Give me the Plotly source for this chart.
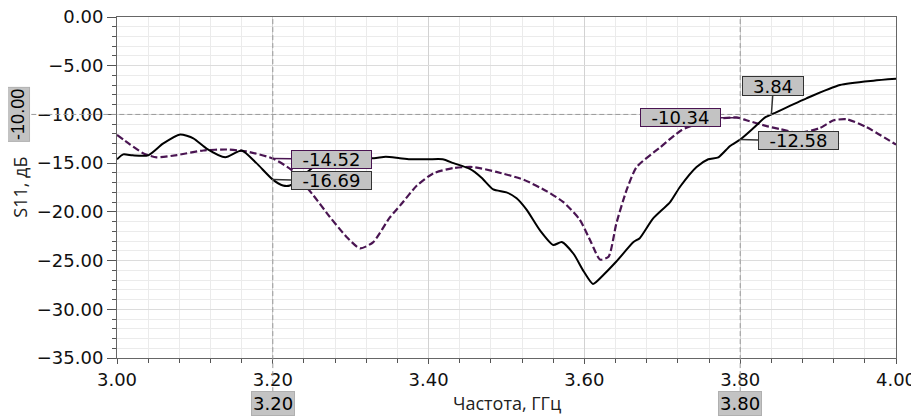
import plotly.graph_objects as go

# ---- data ----
freq_meas = [3.000, 3.008, 3.020, 3.040, 3.059, 3.081, 3.098, 3.115, 3.139, 3.160, 3.179,
             3.200, 3.213, 3.222, 3.260, 3.300, 3.330, 3.345, 3.363, 3.376, 3.400, 3.418,
             3.432, 3.453, 3.468, 3.483, 3.500, 3.513, 3.526, 3.543, 3.560, 3.571, 3.586,
             3.599, 3.611, 3.624, 3.641, 3.663, 3.671, 3.688, 3.710, 3.723, 3.744, 3.759,
             3.772, 3.787, 3.800, 3.817, 3.832, 3.843, 3.885, 3.928, 3.971, 4.000]
s11_meas = [-14.6, -14.1, -14.2, -14.2, -13.0, -12.05, -12.45, -13.5, -14.4, -13.7, -15.0,
            -16.69, -17.3, -17.3, -15.0, -14.5, -14.5, -14.35, -14.5, -14.6, -14.6, -14.6,
            -15.0, -15.6, -16.5, -17.7, -18.0, -18.6, -19.8, -21.9, -23.4, -23.1, -24.3,
            -26.1, -27.4, -26.5, -25.1, -23.1, -22.7, -20.7, -19.0, -17.4, -15.4, -14.6,
            -14.4, -13.24, -12.58, -11.4, -10.3, -9.9, -8.35, -6.98, -6.54, -6.35]

freq_sim = [3.000, 3.017, 3.034, 3.051, 3.077, 3.111, 3.141, 3.166, 3.200, 3.224, 3.252,
            3.273, 3.295, 3.312, 3.329, 3.350, 3.365, 3.385, 3.406, 3.432, 3.457, 3.487,
            3.522, 3.552, 3.573, 3.594, 3.609, 3.620, 3.631, 3.641, 3.654, 3.667, 3.697,
            3.725, 3.760, 3.795, 3.808, 3.834, 3.851, 3.875, 3.902, 3.920, 3.937, 3.962, 4.000]
s11_sim = [-12.1, -13.1, -14.0, -14.4, -14.17, -13.7, -13.6, -13.8, -14.52, -15.7, -18.3,
           -20.5, -22.6, -23.75, -23.1, -20.6, -19.2, -17.3, -16.05, -15.5, -15.4, -15.9,
           -16.7, -17.9, -19.0, -20.8, -23.2, -24.9, -24.6, -21.2, -17.8, -15.4, -13.4,
           -11.6, -10.6, -10.3, -10.6, -11.2, -11.5, -11.9, -11.4, -10.6, -10.5, -11.3, -13.1]

marker_freqs = [3.20, 3.80]
marker_sim_vals = [-14.52, -10.34]
marker_meas_vals = [-16.69, -12.58]
level_db = -10.0
level_cross_freq = 3.84

x_tickvals = [3.0, 3.2, 3.4, 3.6, 3.8, 4.0]
y_tickvals = [0, -5, -10, -15, -20, -25, -30, -35]

BLACK = "#000000"
PURPLE = "#4a1552"
BOXFILL = "#c3c3c3"

fig = go.Figure()
fig.add_trace(go.Scatter(x=freq_sim, y=s11_sim, mode="lines",
                         line=dict(color=PURPLE, width=2.2, dash="7px,3px", shape="spline", smoothing=0.6),
                         showlegend=False, hoverinfo="skip"))
fig.add_trace(go.Scatter(x=freq_meas, y=s11_meas, mode="lines",
                         line=dict(color=BLACK, width=2, shape="spline", smoothing=0.6),
                         showlegend=False, hoverinfo="skip"))

# marker lines
for f in marker_freqs:
    fig.add_shape(type="line", xref="x", yref="paper", x0=f, x1=f, y0=-0.10, y1=1,
                  line=dict(color="#9a9a9a", width=1, dash="5px,3px"), layer="above")
fig.add_shape(type="line", xref="paper", yref="y", x0=-0.11, x1=1, y0=level_db, y1=level_db,
              line=dict(color="#9a9a9a", width=1, dash="5px,3px"), layer="above")

ann = []
lab_font = dict(family="DejaVu Sans", size=18, color="#000000")
offsets_sim = [(59, 1), (-60, 0)]
offsets_meas = [(59, 1), (58, 1)]
for f, v, (ax, ay) in zip(marker_freqs, marker_sim_vals, offsets_sim):
    ann.append(dict(x=f, y=v, xref="x", yref="y", text=f"{v:.2f}", showarrow=True,
                    arrowhead=0, arrowwidth=1.5, arrowcolor=PURPLE, ax=ax, ay=ay,
                    bgcolor=BOXFILL, bordercolor=PURPLE, borderwidth=1, borderpad=0,
                    width=79, height=17, font=lab_font))
for f, v, (ax, ay) in zip(marker_freqs, marker_meas_vals, offsets_meas):
    ann.append(dict(x=f, y=v, xref="x", yref="y", text=f"{v:.2f}", showarrow=True,
                    arrowhead=0, arrowwidth=1.5, arrowcolor="#333333", ax=ax, ay=ay,
                    bgcolor=BOXFILL, bordercolor="#333333", borderwidth=1, borderpad=0,
                    width=79, height=17, font=lab_font))
ann.append(dict(x=level_cross_freq, y=level_db, xref="x", yref="y", text=f"{level_cross_freq:.2f}",
                showarrow=True, arrowhead=0, arrowwidth=1.5, arrowcolor="#333333", ax=2, ay=-28,
                bgcolor=BOXFILL, bordercolor="#333333", borderwidth=1, borderpad=0,
                width=60, height=18, font=lab_font))
# axis marker boxes
for f in marker_freqs:
    ann.append(dict(x=f, y=-0.132, xref="x", yref="paper", text=f"{f:.2f}", showarrow=False,
                    xanchor="center", yanchor="middle",
                    bgcolor=BOXFILL, bordercolor="#b0b0b0", borderwidth=1, borderpad=1,
                    font=dict(family="DejaVu Sans", size=18, color="#000000")))
ann.append(dict(x=-0.1265, y=level_db, xref="paper", yref="y", text=f"{level_db:.2f}",
                xanchor="center", yanchor="middle",
                textangle=-90, showarrow=False, bgcolor=BOXFILL, bordercolor="#b0b0b0",
                borderwidth=1, borderpad=1,
                font=dict(family="Liberation Sans", size=18, color="#000000")))
# axis titles
ann.append(dict(x=0.5, y=-0.131, xref="paper", yref="paper", text="Частота, ГГц",
                showarrow=False, xanchor="center", yanchor="middle",
                font=dict(family="Open Sans", size=18, color="#222222")))
ann.append(dict(x=-0.1255, y=0.5, xref="paper", yref="paper", text="S11, дБ", textangle=-90,
                xanchor="center", yanchor="middle",
                showarrow=False, font=dict(family="Open Sans", size=18, color="#222222")))

# page body has an 8px margin: size the figure so the plot lands where the reference has it
fig.update_layout(
    width=911, height=408,
    margin=dict(l=109, r=23, t=9, b=58, autoexpand=False),
    paper_bgcolor="white", plot_bgcolor="white",
    annotations=ann,
    xaxis=dict(range=[3.0, 4.0], tickvals=x_tickvals, tickformat=".2f", automargin=False,
               ticklabeloverflow="allow",
               showgrid=True, gridcolor="#d2d2d2", gridwidth=1,
               ticks="outside", ticklen=5, tickcolor="#555555",
               showline=True, linecolor="#666666", linewidth=1, mirror=True,
               zeroline=False,
               tickfont=dict(family="DejaVu Sans", size=18, color="#111111"),
               minor=dict(dtick=0.04, tick0=3.0, ticks="outside", ticklen=4, tickcolor="#555555",
                          showgrid=True, gridcolor="#ebebeb", gridwidth=1)),
    yaxis=dict(range=[-35, 0], tickvals=y_tickvals, tickformat=".2f", automargin=False,
               ticklabeloverflow="allow",
               showgrid=True, gridcolor="#dcdcdc", gridwidth=1,
               ticks="outside", ticklen=9, tickcolor="#555555",
               showline=True, linecolor="#666666", linewidth=1, mirror=True,
               zeroline=False,
               tickfont=dict(family="DejaVu Sans", size=18, color="#111111"),
               minor=dict(dtick=1, tick0=0, ticks="outside", ticklen=4, tickcolor="#555555",
                          showgrid=True, gridcolor="#ebebeb", gridwidth=1)),
)

fig.write_html("out.html")
